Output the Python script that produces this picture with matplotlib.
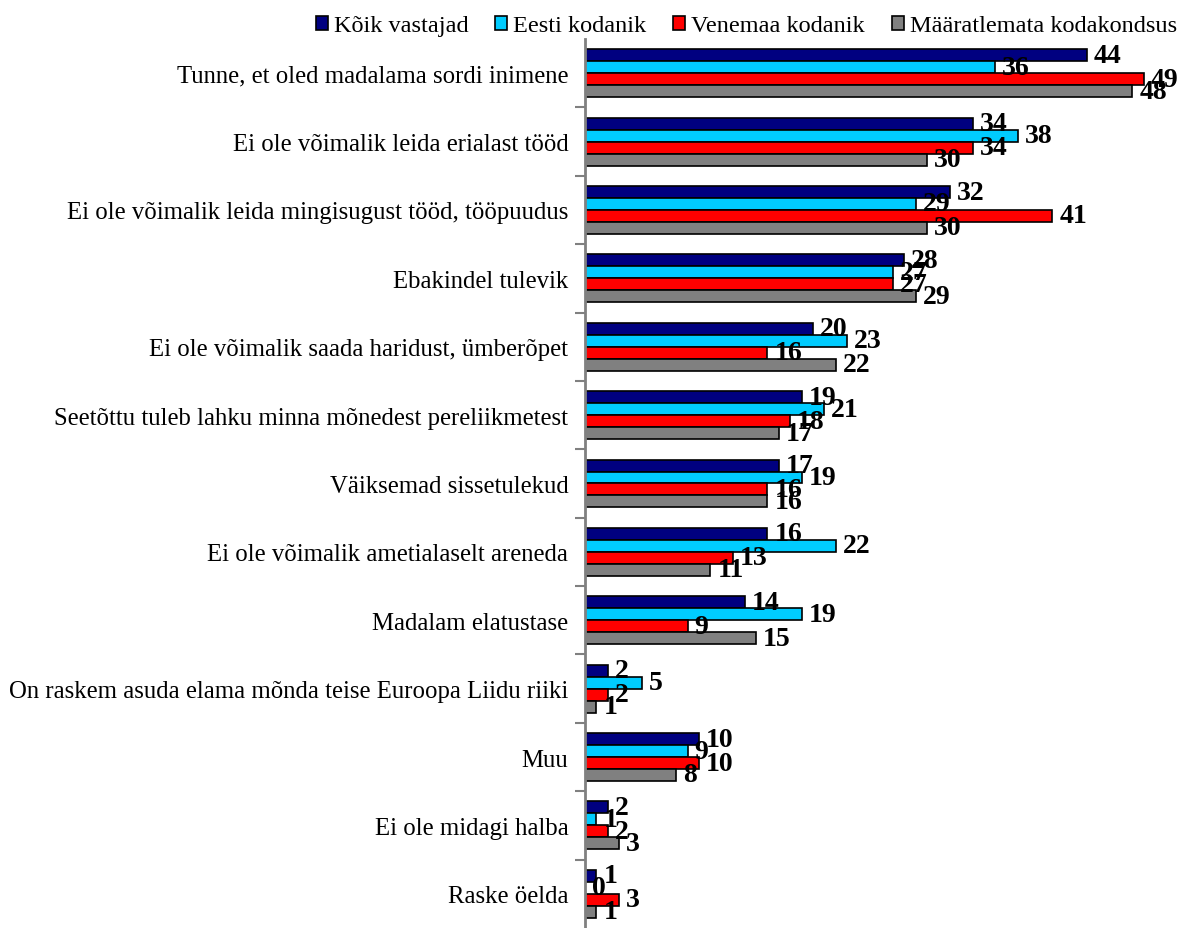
import numpy as np
import matplotlib
matplotlib.use("Agg")
import matplotlib.pyplot as plt
from matplotlib.patches import Patch

categories = [
    "Tunne, et oled madalama sordi inimene",
    "Ei ole võimalik leida erialast tööd",
    "Ei ole võimalik leida mingisugust tööd, tööpuudus",
    "Ebakindel tulevik",
    "Ei ole võimalik saada haridust, ümberõpet",
    "Seetõttu tuleb lahku minna mõnedest pereliikmetest",
    "Väiksemad sissetulekud",
    "Ei ole võimalik ametialaselt areneda",
    "Madalam elatustase",
    "On raskem asuda elama mõnda teise Euroopa Liidu riiki",
    "Muu",
    "Ei ole midagi halba",
    "Raske öelda",
]
series_names = ["Kõik vastajad", "Eesti kodanik", "Venemaa kodanik", "Määratlemata kodakondsus"]
koik = [44, 34, 32, 28, 20, 19, 17, 16, 14, 2, 10, 2, 1]
eesti = [36, 38, 29, 27, 23, 21, 19, 22, 19, 5, 9, 1, 0]
venemaa = [49, 34, 41, 27, 16, 18, 16, 13, 9, 2, 10, 2, 3]
maaratlemata = [48, 30, 30, 29, 22, 17, 16, 11, 15, 1, 8, 3, 1]

colors = ["#000080", "#00CCFF", "#FF0000", "#808080"]
serif = "Liberation Serif"

fig = plt.figure(figsize=(11.99, 9.29), dpi=100)
ax = fig.add_axes([585 / 1199, 0.0, 614 / 1199, 1 - 40 / 929])

n = len(categories)
y = np.arange(n)
bh = 0.175
for j, (vals, col) in enumerate(zip([koik, eesti, venemaa, maaratlemata], colors)):
    pos = y - 0.2625 + j * bh
    bars = ax.barh(pos, vals, height=bh, color=col, edgecolor="black", linewidth=1.2)
    ax.bar_label(bars, padding=5, fontsize=20, fontweight="bold", family=serif)

ax.set_xlim(0, 614 / 11.4)
ax.set_ylim(n - 0.5, -0.5)
ax.set_yticks(y)
ax.set_yticklabels(categories, family=serif, fontsize=17.8)
ax.set_yticks(np.arange(n - 1) + 0.5, minor=True)
ax.tick_params(axis="y", which="major", length=0, pad=12)
ax.tick_params(axis="y", which="minor", length=7, width=1.5, color="#808080")
ax.set_xticks([])
for s in ["top", "right", "bottom"]:
    ax.spines[s].set_visible(False)
ax.spines["left"].set_color("#808080")
ax.spines["left"].set_linewidth(2)

handles = [Patch(facecolor=c, edgecolor="black", linewidth=1.2) for c in colors]
fig.legend(handles, series_names, loc="upper right", bbox_to_anchor=(1.0, 1.006), ncol=4,
           frameon=False, prop={"family": serif, "size": 17.5}, handlelength=0.5,
           handleheight=0.5, handletextpad=0.25, columnspacing=1.1)

fig.savefig("out.png", dpi=100)
